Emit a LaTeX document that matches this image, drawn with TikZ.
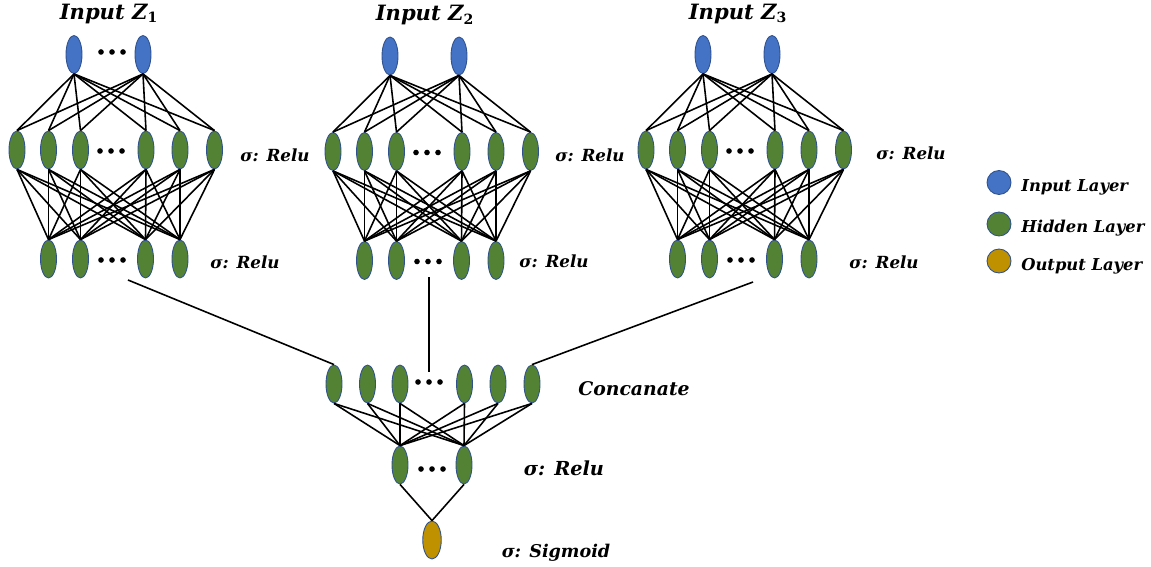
\documentclass[tikz,border=0pt]{standalone}
\usepackage{tikz}
\usetikzlibrary{shapes.geometric}
\usepackage{amsmath}
\usepackage{fontspec}
\setmainfont{DejaVu Serif}

\definecolor{bleu}{HTML}{4472C4}
\definecolor{vert}{HTML}{548235}
\definecolor{or}{HTML}{BF9000}
\definecolor{bord}{HTML}{2F528F}

\begin{document}
\begin{tikzpicture}[x=0.02cm,y=-0.02cm,
		neurone/.style={ellipse,draw=bord,line width=0.5pt,minimum width=0.32cm,minimum height=0.76cm,inner sep=0pt},
		entree/.style={neurone,fill=bleu},
		cachee/.style={neurone,fill=vert},
		sortie/.style={neurone,fill=or,minimum width=0.37cm},
		lien/.style={line width=0.9pt},
		titre/.style={inner sep=0pt,font=\fontsize{12}{14}\selectfont\bfseries\itshape},
		etiq/.style={inner sep=0pt,font=\fontsize{9.5}{11}\selectfont\bfseries\itshape},
		legende/.style={circle,draw=bord,line width=0.5pt,minimum size=0.48cm,inner sep=0pt}]
					\useasboundingbox (0,0) rectangle (1151,567);
					%\draw[help lines] (0,0) grid[step=50] (1151,567);
					
					%TROIS BLOCS Z_1, Z_2, Z_3
					\foreach \b/\dx/\dy in {1/0/0,2/316/1.5,3/629/0}{
						\begin{scope}[shift={(\dx,\dy)}]
							\node[titre] (T\b) at (109,14) {Input Z{\upshape\textsubscript{\b}}};
							\foreach \x [count=\i] in {74,143}
								\node[entree] (X\b_\i) at (\x,54.5) {};
							\foreach \x [count=\i] in {17,48.5,80.5,146,180,214.5}
								\node[cachee] (H\b_\i) at (\x,150) {};
							\foreach \x [count=\i] in {48.5,80.5,145.5,180}
								\node[cachee] (K\b_\i) at (\x,259) {};
							\foreach \i in {1,2}
								\foreach \j in {1,...,6}
									\draw[lien] (X\b_\i.south) -- (H\b_\j.north);
							\foreach \i in {1,...,6}
								\foreach \j in {1,...,4}
									\draw[lien] (H\b_\i.south) -- (K\b_\j.north);
							\foreach \u in {-11,0,11}{
								\fill (111+\u,151) circle (1.6pt);
								\fill (112+\u,260) circle (1.6pt);
							}
						\end{scope}
					}
					\foreach \u in {-11,0,11}
						\fill (112+\u,52) circle (1.6pt);
					
					%ETIQUETTES DES BLOCS
					\node[etiq] (L1) at (275,155) {σ: Relu};
					\node[etiq] (M1) at (245,262) {σ: Relu};
					\node[etiq] (L2) at (590,155) {σ: Relu};
					\node[etiq] (M2) at (554,261) {σ: Relu};
					\node[etiq] (L3) at (911,153) {σ: Relu};
					\node[etiq] (M3) at (884,262) {σ: Relu};
					
					%CONCATENATION
					\foreach \x [count=\i] in {334,367.5,400,464.5,498,532}
						\node[cachee] (C_\i) at (\x,384) {};
					\foreach \u in {-11,0,11}
						\fill (429+\u,382) circle (1.6pt);
					\node[etiq,font=\fontsize{10.7}{12}\selectfont\bfseries\itshape] (LC) at (634,389) {Concanate};
					
					% sorties des blocs
					\coordinate (Z1) at (128,280);
					\coordinate (Z2) at (429,277);
					\coordinate (Z2b) at (429,372);
					\coordinate (Z3) at (753,282);
					\draw[lien] (Z1) -- (C_1.north);
					\draw[lien] (Z2) -- (Z2b);
					\draw[lien] (Z3) -- (C_6.north);
					
					%RELU ET SIGMOID
					\foreach \x [count=\i] in {400,464}
						\node[cachee] (R_\i) at (\x,465) {};
					\foreach \u in {-11,0,11}
						\fill (432+\u,469) circle (1.6pt);
					\node[etiq,font=\fontsize{11}{13}\selectfont\bfseries\itshape] (LR) at (564,468) {σ: Relu};
					\foreach \i in {1,...,6}
						\foreach \j in {1,2}
							\draw[lien] (C_\i.south) -- (R_\j.north);
					\node[sortie] (S) at (432,540) {};
					\draw[lien] (R_1.south) -- (S.north);
					\draw[lien] (R_2.south) -- (S.north);
					\node[etiq,font=\fontsize{10}{12}\selectfont\bfseries\itshape] (LS) at (556,553) {σ: Sigmoid};
					
					%LEGENDE
					\node[legende,fill=bleu] (E) at (999,182.5) {};
					\node[legende,fill=vert] (H) at (999,224) {};
					\node[legende,fill=or] (O) at (999,261) {};
					\node[etiq,anchor=west,font=\fontsize{9.3}{11}\selectfont\bfseries\itshape] at (1021,187) {Input Layer};
					\node[etiq,anchor=west,font=\fontsize{9.3}{11}\selectfont\bfseries\itshape] at (1021,228) {Hidden Layer};
					\node[etiq,anchor=west,font=\fontsize{9.3}{11}\selectfont\bfseries\itshape] at (1021,266) {Output Layer};
\end{tikzpicture}
\end{document}
